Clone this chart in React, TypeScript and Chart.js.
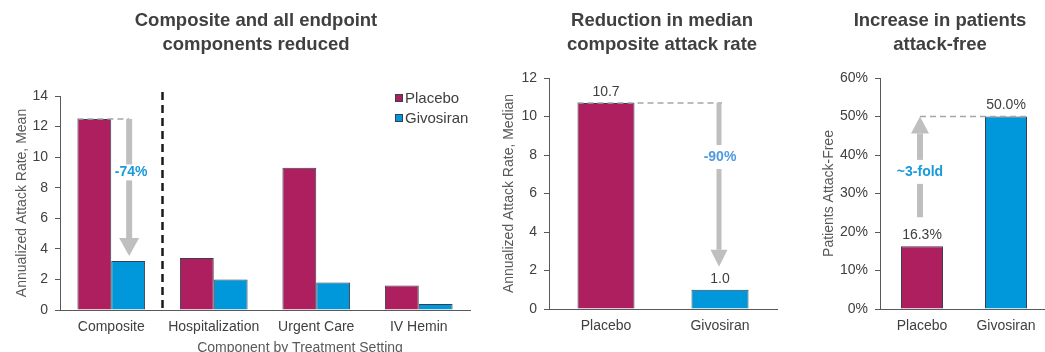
import { useEffect, useRef } from 'react';
import { Chart, registerables } from 'chart.js';

Chart.register(...registerables);

// ---- Data ----------------------------------------------------------------
const componentLabels = ['Composite', 'Hospitalization', 'Urgent Care', 'IV Hemin'];
const placeboMeanRate = [12.5, 3.4, 9.3, 1.6];
const givosiranMeanRate = [3.2, 2.0, 1.8, 0.4];
const meanRateTicks = [0, 2, 4, 6, 8, 10, 12, 14];

const armLabels = ['Placebo', 'Givosiran'];
const medianCompositeRate = [10.7, 1.0];
const medianRateTicks = [0, 2, 4, 6, 8, 10, 12];

const attackFreePercent = [16.3, 50.0];
const attackFreeTicks = [0, 10, 20, 30, 40, 50, 60];

const panelTitles = [
  ['Composite and all endpoint', 'components reduced'],
  ['Reduction in median', 'composite attack rate'],
  ['Increase in patients', 'attack-free'],
];
const changeLabels = ['-74%', '-90%', '~3-fold'];

// ---- Styles --------------------------------------------------------------
const FONT = '"Liberation Sans", Arial, Helvetica, sans-serif';
const TEXT = '#404040';
const AXIS_TITLE = '#595959';
const AXIS_LINE = '#595959';
const PLACEBO = '#AD1F5F';
const GIVOSIRAN = '#0098DA';
const BAR_EDGE = '#3a3f4f';
const ARROW_GRAY = '#BFBFBF';
const GUIDE_GRAY = '#A6A6A6';
const CHANGE_BLUE = '#1A9AD9';
const CHANGE_BLUE_LIGHT = '#4F9BE0';

const W = 1045;
const H = 352;

function yScale(ticks: number[], title: string, width: number, titlePad: number, fmt: (v: number) => string) {
  return {
    min: ticks[0],
    max: ticks[ticks.length - 1],
    afterBuildTicks: (s: any) => {
      s.ticks = ticks.map((v) => ({ value: v }));
    },
    afterFit: (s: any) => {
      s.width = width;
    },
    ticks: {
      font: { family: FONT, size: 14 },
      color: TEXT,
      padding: 7,
      callback: (v: any) => fmt(Number(v)),
    },
    grid: { drawOnChartArea: false, drawTicks: true, tickLength: 5, color: AXIS_LINE, lineWidth: 1 },
    border: { color: AXIS_LINE, width: 1 },
    title: {
      display: true,
      text: title,
      font: { family: FONT, size: 14 },
      color: AXIS_TITLE,
      padding: { top: titlePad, bottom: 0 },
    },
  };
}

function xScale(height: number) {
  return {
    afterFit: (s: any) => {
      s.height = height;
    },
    ticks: { font: { family: FONT, size: 14 }, color: TEXT, padding: 9 },
    grid: { display: false, drawTicks: false },
    border: { color: AXIS_LINE, width: 1 },
  };
}

// Gray block arrow, from tail to tip, with a gap left open for its label.
function blockArrow(
  ctx: CanvasRenderingContext2D,
  x: number,
  tail: number,
  tip: number,
  shaftW: number,
  headW: number,
  headH: number,
  gapCenter: number,
  gapH: number,
) {
  const dir = tip > tail ? 1 : -1;
  const headBase = tip - dir * headH;
  ctx.save();
  ctx.fillStyle = ARROW_GRAY;
  const segs: [number, number][] = [
    [tail, gapCenter - (dir * gapH) / 2],
    [gapCenter + (dir * gapH) / 2, headBase],
  ];
  for (const [a, b] of segs) {
    ctx.fillRect(x - shaftW / 2, Math.min(a, b), shaftW, Math.abs(b - a));
  }
  ctx.beginPath();
  ctx.moveTo(x - headW / 2, headBase);
  ctx.lineTo(x + headW / 2, headBase);
  ctx.lineTo(x, tip);
  ctx.closePath();
  ctx.fill();
  ctx.restore();
}

function guideLine(ctx: CanvasRenderingContext2D, x1: number, x2: number, y: number) {
  ctx.save();
  ctx.strokeStyle = GUIDE_GRAY;
  ctx.lineWidth = 1.5;
  ctx.setLineDash([6, 4]);
  ctx.beginPath();
  ctx.moveTo(x1, y);
  ctx.lineTo(x2, y);
  ctx.stroke();
  ctx.restore();
}

function changeText(ctx: CanvasRenderingContext2D, text: string, x: number, y: number, color: string) {
  ctx.save();
  ctx.font = `bold 14px ${FONT}`;
  ctx.fillStyle = color;
  ctx.textAlign = 'center';
  ctx.textBaseline = 'middle';
  ctx.fillText(text, x, y);
  ctx.restore();
}

function valueLabels(fmt: (v: number) => string) {
  return {
    id: 'valueLabels',
    afterDatasetsDraw(chart: any) {
      const { ctx } = chart;
      const meta = chart.getDatasetMeta(0);
      const values = chart.data.datasets[0].data as number[];
      ctx.save();
      ctx.font = `14px ${FONT}`;
      ctx.fillStyle = TEXT;
      ctx.textAlign = 'center';
      ctx.textBaseline = 'bottom';
      meta.data.forEach((bar: any, i: number) => {
        ctx.fillText(fmt(values[i]), bar.x, bar.y - 4);
      });
      ctx.restore();
    },
  };
}

const baseOptions = {
  responsive: false,
  maintainAspectRatio: false,
  animation: false as const,
  devicePixelRatio: 1,
  plugins: { legend: { display: false }, tooltip: { enabled: false } },
};

// ---- Panel 1: mean annualized attack rate by component ---------------------
function componentsConfig(): any {
  const overlay = {
    id: 'componentsOverlay',
    afterDatasetsDraw(chart: any) {
      const { ctx, chartArea, scales } = chart;
      const y = scales.y;
      const pBars = chart.getDatasetMeta(0).data;
      const gBars = chart.getDatasetMeta(1).data;

      // separator between composite and its components
      const sepX = (gBars[0].x + gBars[0].width / 2 + pBars[1].x - pBars[1].width / 2) / 2;
      ctx.save();
      ctx.strokeStyle = '#1a1a1a';
      ctx.lineWidth = 2.5;
      ctx.setLineDash([8, 5]);
      ctx.beginPath();
      ctx.moveTo(sepX, chartArea.top - 4);
      ctx.lineTo(sepX, chartArea.bottom - 2);
      ctx.stroke();
      ctx.restore();

      // reduction arrow on the composite pair
      const top = y.getPixelForValue(placeboMeanRate[0]);
      const arrowX = gBars[0].x + 1;
      const tip = y.getPixelForValue(givosiranMeanRate[0]) - 5;
      guideLine(ctx, pBars[0].x - pBars[0].width / 2, arrowX, top);
      const labelY = top + (tip - top) * 0.39;
      blockArrow(ctx, arrowX, top, tip, 6, 20, 18, labelY, 16);
      changeText(ctx, changeLabels[0], arrowX + 2, labelY, CHANGE_BLUE);
    },
    afterDraw(chart: any) {
      const { ctx, chartArea } = chart;
      ctx.save();
      // legend inside the plot, top right
      chart.data.datasets.forEach((ds: any, i: number) => {
        const cy = chartArea.top + 2 + i * 20;
        const lx = chartArea.right - 75;
        ctx.fillStyle = ds.backgroundColor;
        ctx.fillRect(lx, cy - 4, 8, 8);
        ctx.strokeStyle = BAR_EDGE;
        ctx.lineWidth = 1;
        ctx.strokeRect(lx + 0.5, cy - 3.5, 7, 7);
        ctx.fillStyle = TEXT;
        ctx.font = `15px ${FONT}`;
        ctx.textAlign = 'left';
        ctx.textBaseline = 'middle';
        ctx.fillText(ds.label, lx + 10, cy + 1);
      });
      // horizontal axis title
      ctx.fillStyle = AXIS_TITLE;
      ctx.font = `14px ${FONT}`;
      ctx.textAlign = 'center';
      ctx.textBaseline = 'middle';
      ctx.fillText('Component by Treatment Setting', 300, chartArea.bottom + 38);
      ctx.restore();
    },
  };

  return {
    type: 'bar',
    data: {
      labels: componentLabels,
      datasets: [
        {
          label: 'Placebo',
          data: placeboMeanRate,
          backgroundColor: PLACEBO,
          borderColor: BAR_EDGE,
          borderWidth: 1,
          barPercentage: 1,
          categoryPercentage: 0.66,
        },
        {
          label: 'Givosiran',
          data: givosiranMeanRate,
          backgroundColor: GIVOSIRAN,
          borderColor: BAR_EDGE,
          borderWidth: 1,
          barPercentage: 1,
          categoryPercentage: 0.66,
        },
      ],
    },
    options: {
      ...baseOptions,
      layout: { padding: { top: 96, right: 10, left: 0, bottom: 0 } },
      scales: {
        x: xScale(42),
        y: yScale(meanRateTicks, 'Annualized Attack Rate, Mean', 60, 13.6, (v) => String(v)),
      },
    },
    plugins: [overlay],
  };
}

// ---- Panel 2: median composite attack rate --------------------------------
function medianConfig(): any {
  const overlay = {
    id: 'medianOverlay',
    afterDatasetsDraw(chart: any) {
      const { ctx, scales } = chart;
      const y = scales.y;
      const bars = chart.getDatasetMeta(0).data;
      const top = y.getPixelForValue(medianCompositeRate[0]);
      const arrowX = bars[1].x - 1;
      const tip = y.getPixelForValue(medianCompositeRate[1]) - 23;
      guideLine(ctx, bars[0].x - bars[0].width / 2, arrowX + 3, top);
      const labelY = top + (tip - top) * 0.33;
      blockArrow(ctx, arrowX, top, tip, 5, 17, 17, labelY, 24);
      changeText(ctx, changeLabels[1], arrowX + 1, labelY, CHANGE_BLUE_LIGHT);
    },
  };
  return {
    type: 'bar',
    data: {
      labels: armLabels,
      datasets: [
        {
          label: 'Median annualized attack rate',
          data: medianCompositeRate,
          backgroundColor: [PLACEBO, GIVOSIRAN],
          borderColor: BAR_EDGE,
          borderWidth: 1,
          barPercentage: 1,
          categoryPercentage: 0.5,
        },
      ],
    },
    options: {
      ...baseOptions,
      layout: { padding: { top: 78, right: 13, left: 0, bottom: 0 } },
      scales: {
        x: xScale(43),
        y: yScale(medianRateTicks, 'Annualized Attack Rate, Median', 59, 10.6, (v) => String(v)),
      },
    },
    plugins: [overlay, valueLabels((v) => v.toFixed(1))],
  };
}

// ---- Panel 3: patients attack-free ---------------------------------------
function attackFreeConfig(): any {
  const overlay = {
    id: 'attackFreeOverlay',
    afterDatasetsDraw(chart: any) {
      const { ctx, scales } = chart;
      const y = scales.y;
      const bars = chart.getDatasetMeta(0).data;
      const tip = y.getPixelForValue(attackFreePercent[1]);
      const tail = y.getPixelForValue(attackFreePercent[0]) - 29;
      const arrowX = bars[0].x - 2;
      guideLine(ctx, arrowX, bars[1].x + bars[1].width / 2, tip);
      const labelY = tip + (tail - tip) * 0.55;
      blockArrow(ctx, arrowX, tail, tip, 6, 18, 17, labelY, 24);
      changeText(ctx, changeLabels[2], arrowX, labelY, CHANGE_BLUE);
    },
  };
  return {
    type: 'bar',
    data: {
      labels: armLabels,
      datasets: [
        {
          label: 'Patients attack-free',
          data: attackFreePercent,
          backgroundColor: [PLACEBO, GIVOSIRAN],
          borderColor: BAR_EDGE,
          borderWidth: 1,
          barPercentage: 1,
          categoryPercentage: 0.5,
        },
      ],
    },
    options: {
      ...baseOptions,
      layout: { padding: { top: 78, right: 12, left: 0, bottom: 0 } },
      scales: {
        x: xScale(43),
        y: yScale(attackFreeTicks, 'Patients Attack-Free', 80, 20.6, (v) => `${v}%`),
      },
    },
    plugins: [overlay, valueLabels((v) => `${v.toFixed(1)}%`)],
  };
}

function Panel({ left, width, build }: { left: number; width: number; build: () => any }) {
  const ref = useRef<HTMLCanvasElement>(null);
  useEffect(() => {
    const chart = new Chart(ref.current as HTMLCanvasElement, build());
    return () => chart.destroy();
  }, [build]);
  return (
    <canvas
      ref={ref}
      width={width}
      height={H}
      style={{ position: 'absolute', left, top: 0, width, height: H }}
    />
  );
}

function PanelTitle({ center, lines }: { center: number; lines: string[] }) {
  return (
    <div
      style={{
        position: 'absolute',
        left: center - 160,
        top: 8,
        width: 320,
        textAlign: 'center',
        fontFamily: FONT,
        fontWeight: 'bold',
        fontSize: 18.5,
        lineHeight: '24px',
        color: TEXT,
      }}
    >
      {lines.map((l) => (
        <div key={l}>{l}</div>
      ))}
    </div>
  );
}

export default function App() {
  return (
    <div
      style={{
        position: 'fixed',
        left: 0,
        top: 0,
        width: W,
        height: H,
        overflow: 'hidden',
        background: '#ffffff',
      }}
    >
      <Panel left={0} width={480} build={componentsConfig} />
      <Panel left={490} width={300} build={medianConfig} />
      <Panel left={800} width={260} build={attackFreeConfig} />
      <PanelTitle center={256} lines={panelTitles[0]} />
      <PanelTitle center={662} lines={panelTitles[1]} />
      <PanelTitle center={940} lines={panelTitles[2]} />
    </div>
  );
}
